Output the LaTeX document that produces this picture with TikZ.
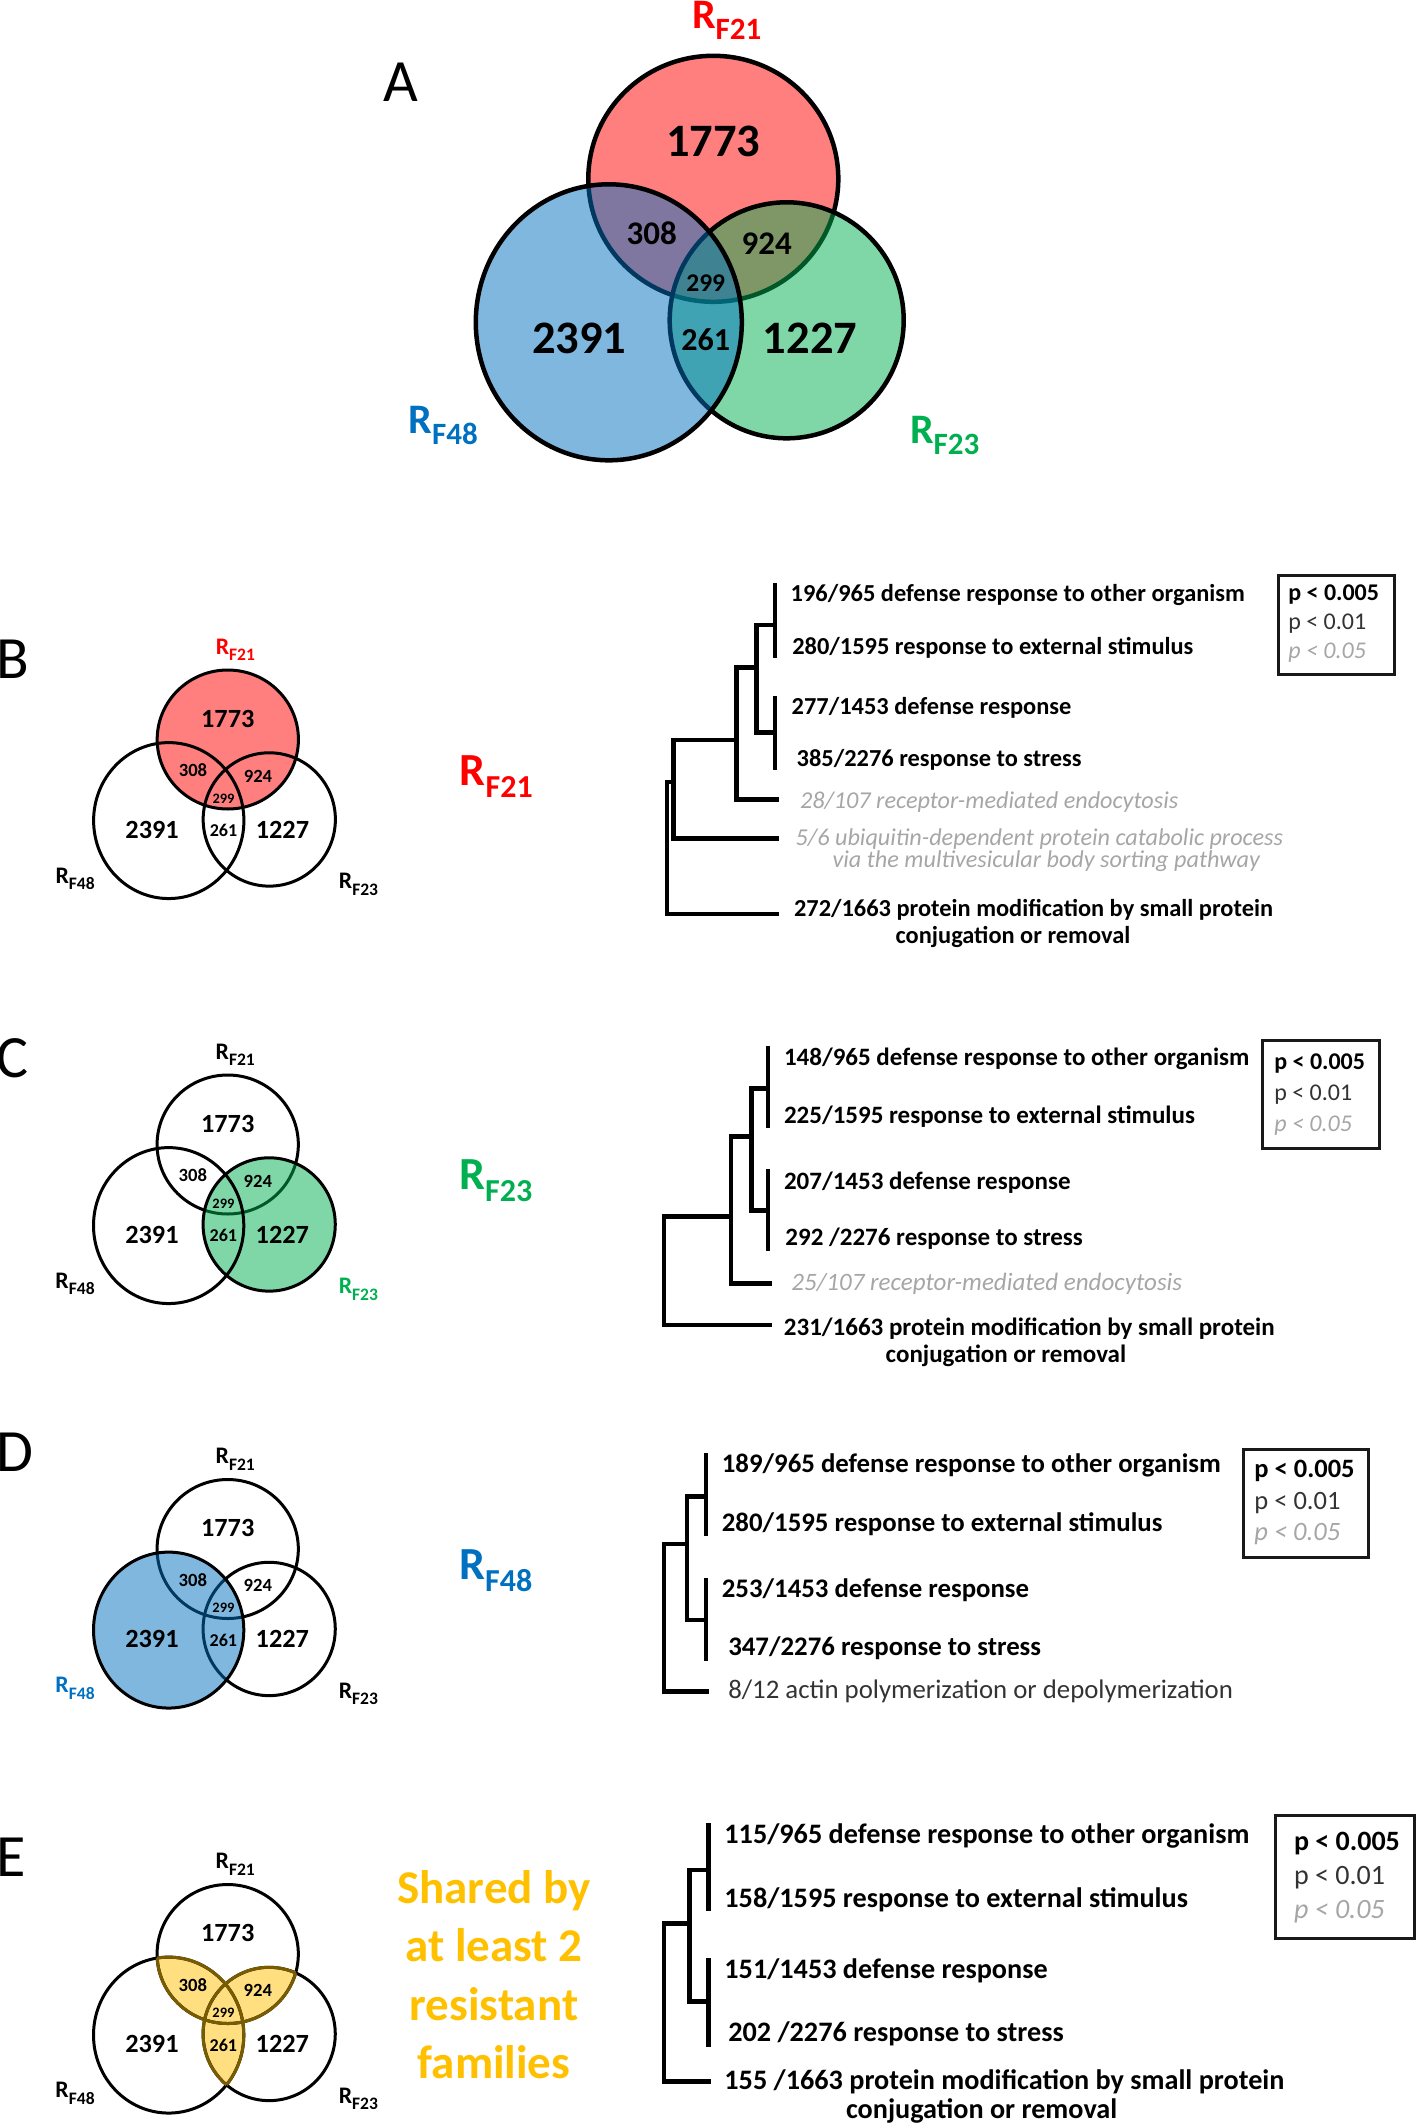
\documentclass[tikz,border=0pt]{standalone}
\usepackage{fontspec}
\setmainfont{Carlito}
\definecolor{vred}{HTML}{FF0000}
\definecolor{vgreen}{HTML}{00B050}
\definecolor{vblue}{HTML}{0070C0}
\definecolor{vgold}{HTML}{FFC000}
\definecolor{goldlight}{HTML}{FFDF80}
\definecolor{goldline}{HTML}{7A5C00}
\definecolor{lightg}{HTML}{A6A6A6}
\definecolor{darkg}{HTML}{333333}
\newcommand{\fsz}[1]{\fontsize{#1}{#1}\selectfont}
\newcommand{\Rsub}[4]{\fsz{#1}R\raisebox{-#3pt}{\fsz{#2}#4}}
\newcommand{\vennbody}[8]{%
  \path[draw=black, line width=#2, #3] (0,0) ellipse [x radius=125pt, y radius=123pt];
  \path[draw=black, line width=#2, #4] (73.4,141.5) ellipse [x radius=117pt, y radius=118pt];
  \path[draw=black, line width=#2, #5] (-104.5,143.5) ellipse [x radius=133pt, y radius=138pt];
  \node[num, font=\bfseries\fsz{46.5}] (#1-a) at (0,-37) {1773};
  \node[num, font=\bfseries\fsz{33}] (#1-b) at (-61.6,54.5) {308};
  \node[num, font=\bfseries\fsz{33}] (#1-c) at (53.4,64.5) {924};
  \node[num, font=\bfseries\fsz{25.5}] (#1-d) at (-7.6,104.5) {299};
  \node[num, font=\bfseries\fsz{46.5}] (#1-e) at (-134,159.5) {2391};
  \node[num, font=\bfseries\fsz{32}] (#1-f) at (-7.6,161.2) {261};
  \node[num, font=\bfseries\fsz{46.5}] (#1-g) at (96.7,159.5) {1227};
  \node[rlab, text=#6] (#1-r21) at (-21.3,-150.5) {\Rsub{42}{31}{11}{F21}};
  \node[rlab, text=#8] (#1-r48) at (-304.8,254.5) {\Rsub{42}{31}{11}{F48}};
  \node[rlab, text=#7] (#1-r23) at (196.7,264.5) {\Rsub{42}{31}{11}{F23}};
}
\begin{document}
\begin{tikzpicture}[x=1pt,y=-1pt,
  every node/.style={inner sep=0pt, outer sep=0pt},
  num/.style={anchor=center},
  rlab/.style={anchor=base west, font=\bfseries},
  panel/.style={anchor=base west, font=\fsz{60}},
  sidelab/.style={anchor=base west, font=\bfseries},
  branch/.style={line width=4.5pt, line join=miter, line cap=rect},
  leafb/.style={anchor=base west, font=\bfseries\fsz{#1}},
  leafi/.style={anchor=base west, font=\itshape\fsz{#1}, text=lightg},
  leafr/.style={anchor=base west, font=\fsz{#1}, text=darkg},
  legbox/.style={draw=black!90, line width=3pt},
  leg1/.style={anchor=base west, font=\bfseries\fsz{#1}},
  leg2/.style={anchor=base west, font=\fsz{#1}, text=darkg},
  leg3/.style={anchor=base west, font=\itshape\fsz{#1}, text=lightg},
  shared/.style={anchor=base, font=\bfseries\fsz{47}, text=vgold}
]
\useasboundingbox (0,0) rectangle (1418,2125);

% panel letters
\node[panel] (labA) at (383,101.7) {A};
\node[panel] (labB) at (-3,678.3) {B};
\node[panel] (labC) at (-3,1077.6) {C};
\node[panel] (labD) at (-3,1471.4) {D};
\node[panel] (labE) at (-3,1876.7) {E};

% ---------- Venn A ----------
\begin{scope}[shift={(713.3,178.8)}]
\vennbody{va}{4.5pt}{fill=vred,fill opacity=.5}{fill=vgreen,fill opacity=.5}{fill=vblue,fill opacity=.5}{vred}{vgreen}{vblue}
\end{scope}

% ---------- Venn B ----------
\begin{scope}[shift={(227.8,739.5)}, scale=0.565, transform shape]
\vennbody{vb}{3pt}{fill=vred,fill opacity=.5}{}{}{vred}{black}{black}
\end{scope}

% ---------- Venn C ----------
\begin{scope}[shift={(227.7,1144.5)}, scale=0.565, transform shape]
\vennbody{vc}{3pt}{}{fill=vgreen,fill opacity=.5}{}{black}{vgreen}{black}
\end{scope}

% ---------- Venn D ----------
\begin{scope}[shift={(227.7,1549)}, scale=0.565, transform shape]
\vennbody{vd}{3pt}{}{}{fill=vblue,fill opacity=.5}{black}{black}{vblue}
\end{scope}

% ---------- Venn E ----------
\begin{scope}[shift={(227.7,1954)}, scale=0.565, transform shape]
\begin{scope}
  \clip (0,0) ellipse [x radius=125pt, y radius=123pt];
  \fill[goldlight] (73.4,141.5) ellipse [x radius=117pt, y radius=118pt];
  \fill[goldlight] (-104.5,143.5) ellipse [x radius=133pt, y radius=138pt];
\end{scope}
\begin{scope}
  \clip (73.4,141.5) ellipse [x radius=117pt, y radius=118pt];
  \fill[goldlight] (-104.5,143.5) ellipse [x radius=133pt, y radius=138pt];
\end{scope}
\vennbody{ve}{3pt}{}{}{}{black}{black}{black}
\begin{scope}
  \clip (73.4,141.5) ellipse [x radius=117pt, y radius=118pt] (-104.5,143.5) ellipse [x radius=133pt, y radius=138pt];
  \draw[goldline, line width=3pt] (0,0) ellipse [x radius=125pt, y radius=123pt];
\end{scope}
\begin{scope}
  \clip (0,0) ellipse [x radius=125pt, y radius=123pt] (-104.5,143.5) ellipse [x radius=133pt, y radius=138pt];
  \draw[goldline, line width=3pt] (73.4,141.5) ellipse [x radius=117pt, y radius=118pt];
\end{scope}
\begin{scope}
  \clip (0,0) ellipse [x radius=125pt, y radius=123pt] (73.4,141.5) ellipse [x radius=117pt, y radius=118pt];
  \draw[goldline, line width=3pt] (-104.5,143.5) ellipse [x radius=133pt, y radius=138pt];
\end{scope}
\end{scope}

% side labels
\node[sidelab, text=vred] (sB) at (459.8,785) {\Rsub{46}{32}{12}{F21}};
\node[sidelab, text=vgreen] (sC) at (459.2,1189.8) {\Rsub{46}{32}{12}{F23}};
\node[sidelab, text=vblue] (sD) at (459.2,1579.6) {\Rsub{46}{32}{12}{F48}};
\node[shared] (sE1) at (494,1903) {Shared by};
\node[shared] (sE2) at (494,1961.5) {at least 2};
\node[shared] (sE3) at (494,2020) {resistant};
\node[shared] (sE4) at (494,2078) {families};

% ---------- Tree B ----------
\draw[branch] (775,585) -- (775,656);
\draw[branch] (775,698) -- (775,768);
\draw[branch] (775,625) -- (756.7,625) -- (756.7,732.3) -- (775,732.3);
\draw[branch] (756.7,667.3) -- (736.7,667.3) -- (736.7,799.3) -- (776.7,799.3);
\draw[branch] (736.7,740) -- (673.3,740) -- (673.3,838.3) -- (776.7,838.3);
\draw[branch] (673.3,782) -- (667,782) -- (667,914) -- (776.7,914);
\node[leafb=24.4] (b1) at (790.7,601) {196/965 defense response to other organism};
\node[leafb=24.4] (b2) at (792.3,654) {280/1595 response to external stimulus};
\node[leafb=24.4] (b3) at (791.7,714) {277/1453 defense response};
\node[leafb=24.4] (b4) at (796.7,766) {385/2276 response to stress};
\node[leafi=24.2] (b5) at (800,808) {28/107 receptor-mediated endocytosis};
\node[leafi=24.2] (b6a) at (795.7,845) {5/6 ubiquitin-dependent protein catabolic process};
\node[leafi=24.2] (b6b) at (832.6,867.3) {via the multivesicular body sorting pathway};
\node[leafb=24.4] (b7a) at (794,916) {272/1663 protein modification by small protein};
\node[leafb=24.4] (b7b) at (895.6,943) {conjugation or removal};
\draw[legbox] (1278.3,575) rectangle (1394,674.3);
\node[leg1=24] (lb1) at (1288.3,600.5) {p < 0.005};
\node[leg2=24] (lb2) at (1288.3,629.5) {p < 0.01};
\node[leg3=24] (lb3) at (1288.3,658) {p < 0.05};

% ---------- Tree C ----------
\draw[branch] (768,1048.3) -- (768,1126);
\draw[branch] (768,1171.7) -- (768,1248.3);
\draw[branch] (768,1088.3) -- (751.7,1088.3) -- (751.7,1210.7) -- (768,1210.7);
\draw[branch] (751.7,1136.7) -- (730.8,1136.7) -- (730.8,1283.3) -- (770,1283.3);
\draw[branch] (730.8,1216.7) -- (663.8,1216.7) -- (663.8,1325) -- (770,1325);
\node[leafb=25] (c1) at (784,1065.5) {148/965 defense response to other organism};
\node[leafb=25] (c2) at (784,1123) {225/1595 response to external stimulus};
\node[leafb=25] (c3) at (784,1189.5) {207/1453 defense response};
\node[leafb=25] (c4) at (785.4,1245.5) {292 /2276 response to stress};
\node[leafi=25] (c5) at (791.4,1290.5) {25/107 receptor-mediated endocytosis};
\node[leafb=25] (c6a) at (783.9,1335.5) {231/1663 protein modification by small protein};
\node[leafb=25] (c6b) at (885.7,1362) {conjugation or removal};
\draw[legbox] (1262.8,1040.7) rectangle (1379.5,1148.3);
\node[leg1=24] (lc1) at (1274.3,1069) {p < 0.005};
\node[leg2=24] (lc2) at (1274.3,1100) {p < 0.01};
\node[leg3=24] (lc3) at (1274.3,1131.2) {p < 0.05};

% ---------- Tree D ----------
\draw[branch] (706,1455) -- (706,1533.3);
\draw[branch] (706,1580) -- (706,1658.3);
\draw[branch] (706,1496.7) -- (687.1,1496.7) -- (687.1,1620) -- (706,1620);
\draw[branch] (687.1,1544) -- (663.8,1544) -- (663.8,1691.7) -- (707,1691.7);
\node[leafb=26.8] (d1) at (721.9,1472.5) {189/965 defense response to other organism};
\node[leafb=26.8] (d2) at (721.9,1531.5) {280/1595 response to external stimulus};
\node[leafb=26.8] (d3) at (721.9,1597.5) {253/1453 defense response};
\node[leafb=26.8] (d4) at (728.3,1655) {347/2276 response to stress};
\node[leafr=26.8] (d5) at (728.3,1698) {8/12 actin polymerization or depolymerization};
\draw[legbox] (1243,1449.3) rectangle (1368.5,1557.3);
\node[leg1=26.5] (ld1) at (1254.4,1477.3) {p < 0.005};
\node[leg2=26.5] (ld2) at (1254.4,1509) {p < 0.01};
\node[leg3=26.5] (ld3) at (1254.4,1540.7) {p < 0.05};

% ---------- Tree E ----------
\draw[branch] (708.5,1825) -- (708.5,1908.3);
\draw[branch] (708.5,1960) -- (708.5,2045);
\draw[branch] (708.5,1870) -- (689.6,1870) -- (689.6,2001.7) -- (708.5,2001.7);
\draw[branch] (689.6,1923.3) -- (663.8,1923.3) -- (663.8,2081.7) -- (708.5,2081.7);
\node[leafb=28.2] (e1) at (724.4,1843) {115/965 defense response to other organism};
\node[leafb=28.2] (e2) at (724.4,1907) {158/1595 response to external stimulus};
\node[leafb=28.2] (e3) at (724.4,1978.5) {151/1453 defense response};
\node[leafb=28.2] (e4) at (728.3,2041) {202 /2276 response to stress};
\node[leafb=28.2] (e5a) at (724.4,2089.5) {155 /1663 protein modification by small protein};
\node[leafb=28.2] (e5b) at (846,2118) {conjugation or removal};
\draw[legbox] (1275.2,1815) rectangle (1414.2,1938.3);
\node[leg1=28] (le1) at (1294,1850) {p < 0.005};
\node[leg2=28] (le2) at (1294,1884.5) {p < 0.01};
\node[leg3=28] (le3) at (1294,1918.5) {p < 0.05};
\end{tikzpicture}
\end{document}
